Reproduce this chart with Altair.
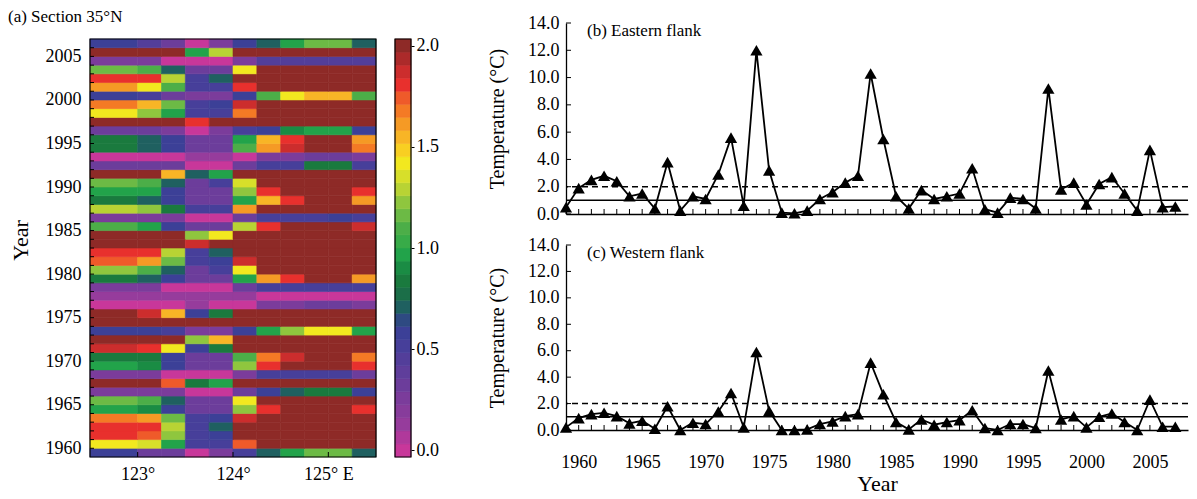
import altair as alt
import pandas as pd

FONT = "Liberation Serif"

# ---------------- (a) Section 35N : heat map ----------------
heat_years = list(range(1959, 2007))
lon_west = [122.5, 123.0, 123.25, 123.5, 123.75, 124.0, 124.25, 124.5, 124.75, 125.0, 125.25]
lon_east = [123.0, 123.25, 123.5, 123.75, 124.0, 124.25, 124.5, 124.75, 125.0, 125.25, 125.5]
sst_rows = [
    [0.58, 0.32, 0.32, 0.0, 0.26, 0.52, 0.71, 0.97, 1.16, 1.16, 0.71],   # 1959
    [1.42, 1.35, 0.97, 0.52, 0.52, 1.74, 2, 2, 2, 2, 2],                 # 1960
    [1.81, 1.74, 1.23, 0.52, 0.58, 2, 2, 2, 2, 2, 2],                    # 1961
    [1.81, 1.81, 1.29, 0.52, 0.71, 2, 2, 2, 2, 2, 2],                    # 1962
    [1.68, 1.61, 1.16, 0.52, 0.58, 1.87, 2, 2, 2, 2, 2],                 # 1963
    [0.97, 0.9, 0.58, 0.32, 0.32, 1.23, 1.81, 2, 2, 2, 1.81],            # 1964
    [1.16, 1.1, 0.71, 0.32, 0.32, 1.42, 2, 2, 2, 2, 2],                  # 1965
    [0.26, 0.26, 0.26, 0.0, 0.0, 0.32, 0.58, 0.71, 0.84, 0.84, 0.58],    # 1966
    [2, 2, 1.74, 0.84, 0.97, 2, 2, 2, 2, 2, 2],                          # 1967
    [0.26, 0.26, 0.0, 0.0, 0.0, 0.26, 0.52, 0.52, 0.52, 0.52, 0.32],     # 1968
    [0.97, 0.9, 0.58, 0.32, 0.32, 1.23, 1.81, 2, 2, 2, 1.81],            # 1969
    [0.84, 0.84, 0.58, 0.32, 0.32, 1.1, 1.68, 1.87, 2, 2, 1.68],         # 1970
    [1.87, 1.81, 1.42, 0.58, 0.84, 2, 2, 2, 2, 2, 2],                    # 1971
    [2, 2, 2, 1.23, 1.55, 2, 2, 2, 2, 2, 2],                             # 1972
    [0.58, 0.58, 0.52, 0.26, 0.26, 0.58, 0.97, 1.23, 1.42, 1.42, 0.97],  # 1973
    [2, 2, 2, 2, 2, 2, 2, 2, 2, 2, 2],                                   # 1974
    [2, 1.87, 1.55, 0.58, 0.84, 2, 2, 2, 2, 2, 2],                       # 1975
    [0.0, 0.0, 0.0, 0.13, 0.0, 0.0, 0.26, 0.26, 0.32, 0.32, 0.26],       # 1976
    [0.13, 0.13, 0.13, 0.13, 0.13, 0.13, 0.0, 0.0, 0.0, 0.0, 0.0],       # 1977
    [0.26, 0.26, 0.0, 0.0, 0.0, 0.32, 0.52, 0.52, 0.52, 0.52, 0.52],     # 1978
    [0.84, 0.71, 0.58, 0.32, 0.32, 0.97, 1.61, 1.81, 2, 2, 1.61],        # 1979
    [1.23, 1.1, 0.71, 0.32, 0.52, 1.42, 2, 2, 2, 2, 2],                  # 1980
    [1.74, 1.61, 1.16, 0.52, 0.58, 1.87, 2, 2, 2, 2, 2],                 # 1981
    [1.81, 1.81, 1.29, 0.52, 0.71, 2, 2, 2, 2, 2, 2],                    # 1982
    [2, 2, 2, 1.87, 2, 2, 2, 2, 2, 2, 2],                                # 1983
    [2, 2, 2, 1.23, 1.42, 2, 2, 2, 2, 2, 2],                             # 1984
    [1.1, 0.97, 0.58, 0.32, 0.32, 1.29, 1.81, 2, 2, 2, 1.87],            # 1985
    [0.26, 0.26, 0.26, 0.0, 0.0, 0.32, 0.52, 0.52, 0.52, 0.58, 0.52],    # 1986
    [1.29, 1.23, 0.84, 0.52, 0.52, 1.61, 2, 2, 2, 2, 2],                 # 1987
    [0.84, 0.71, 0.58, 0.32, 0.32, 0.97, 1.55, 1.81, 2, 2, 1.61],        # 1988
    [0.97, 0.97, 0.58, 0.32, 0.32, 1.23, 1.81, 2, 2, 2, 1.81],           # 1989
    [1.16, 1.1, 0.71, 0.32, 0.52, 1.35, 2, 2, 2, 2, 2],                  # 1990
    [2, 2, 1.55, 0.71, 0.97, 2, 2, 2, 2, 2, 2],                          # 1991
    [0.32, 0.32, 0.32, 0.0, 0.0, 0.32, 0.52, 0.52, 0.84, 0.84, 0.52],    # 1992
    [0.0, 0.0, 0.0, 0.13, 0.13, 0.0, 0.26, 0.26, 0.32, 0.32, 0.26],      # 1993
    [0.84, 0.71, 0.58, 0.32, 0.32, 1.1, 1.61, 1.87, 2, 2, 1.68],         # 1994
    [0.84, 0.71, 0.58, 0.32, 0.32, 0.97, 1.55, 1.81, 2, 2, 1.61],        # 1995
    [0.32, 0.32, 0.26, 0.0, 0.26, 0.52, 0.58, 0.9, 0.97, 0.97, 0.58],    # 1996
    [2, 2, 2, 1.81, 2, 2, 2, 2, 2, 2, 2],                                # 1997
    [1.42, 1.23, 0.97, 0.52, 0.52, 1.68, 2, 2, 2, 2, 2],                 # 1998
    [1.68, 1.55, 1.16, 0.52, 0.58, 1.87, 2, 2, 2, 2, 2],                 # 1999
    [0.58, 0.52, 0.32, 0.26, 0.26, 0.58, 1.1, 1.42, 1.55, 1.55, 1.1],    # 2000
    [1.61, 1.42, 1.1, 0.52, 0.52, 1.81, 2, 2, 2, 2, 2],                  # 2001
    [1.81, 1.81, 1.29, 0.52, 0.71, 2, 2, 2, 2, 2, 2],                    # 2002
    [1.16, 1.1, 0.71, 0.32, 0.32, 1.42, 2, 2, 2, 2, 2],                  # 2003
    [0.26, 0.26, 0.0, 0.0, 0.0, 0.26, 0.45, 0.45, 0.45, 0.45, 0.45],     # 2004
    [2, 2, 2, 0.97, 1.29, 2, 2, 2, 2, 2, 2],                             # 2005
    [0.58, 0.45, 0.32, 0.0, 0.26, 0.58, 0.71, 0.97, 1.16, 1.16, 0.71],   # 2006
]
lon_ticks = [123, 124, 125]
year_ticks = [1960, 1965, 1970, 1975, 1980, 1985, 1990, 1995, 2000, 2005]
minor_years = list(range(1960, 2007))
cbar_ticks = [0.0, 0.5, 1.0, 1.5, 2.0]

palette = [
    "#c8379a", "#b0399b", "#963c9c", "#873c9b", "#7b3c9b", "#6c3d9b", "#5f3e9b", "#533e9a",
    "#473f9a", "#3c4097", "#2e4a82", "#1f6060", "#1b6e48", "#1a7a3e", "#1a8c44", "#22a34a",
    "#38ab48", "#4cae48", "#6cba45", "#8fc63e", "#b8d334", "#d7df2a", "#f2e81f", "#f8cf22",
    "#f8b526", "#f59a25", "#f47a25", "#ef5a2a", "#e8302d", "#cc2d2d", "#ac2a2a", "#8e2a27",
]

# ---------------- (b)/(c) flank temperatures ----------------
line_years = list(range(1959, 2008))
east_flank = [0.5, 1.9, 2.5, 2.8, 2.4, 1.3, 1.5, 0.4, 3.8, 0.25, 1.3, 1.1, 2.9, 5.6, 0.6, 12.0,
              3.2, 0.1, 0.05, 0.25, 1.1, 1.6, 2.3, 2.8, 10.3, 5.5, 1.3, 0.4, 1.75, 1.1, 1.3, 1.5,
              3.35, 0.35, 0.1, 1.2, 1.1, 0.4, 9.2, 1.8, 2.3, 0.7, 2.2, 2.7, 1.5, 0.25, 4.7, 0.5, 0.55]
west_flank = [0.2, 0.9, 1.2, 1.3, 1.05, 0.5, 0.7, 0.1, 1.8, 0.0, 0.55, 0.45, 1.4, 2.8, 0.2, 5.9,
              1.45, 0.0, 0.0, 0.05, 0.45, 0.65, 1.05, 1.2, 5.1, 2.7, 0.6, 0.05, 0.8, 0.4, 0.6, 0.75,
              1.5, 0.15, 0.0, 0.45, 0.45, 0.15, 4.5, 0.8, 1.05, 0.2, 1.0, 1.25, 0.6, 0.0, 2.3, 0.25, 0.25]
ref_levels = [1.0, 2.0]
ref_kinds = ["solid", "dashed"]
temp_ticks = [0, 2, 4, 6, 8, 10, 12, 14]

# ---------------- build tables ----------------
recs = []
for yr, row in zip(heat_years, sst_rows):
    for w, e, v in zip(lon_west, lon_east, row):
        recs.append({"yr0": yr, "yr1": yr + 1, "lon0": w, "lon1": e, "sst": v})
heat_df = pd.DataFrame(recs)

n_col = len(palette)
step = 2.0 / (n_col - 1)
half = step / 2.0
centers = [k * step for k in range(n_col)]
cb_df = pd.DataFrame({"mid": centers,
                      "lo": [c - half for c in centers],
                      "hi": [c + half for c in centers]})

line_df = pd.DataFrame({"year": line_years, "east": east_flank, "west": west_flank})
ref_df = pd.DataFrame({"level": ref_levels, "kind": ref_kinds})
ytick_df = pd.DataFrame({"yr": minor_years})
xtick_df = pd.DataFrame({"lon": lon_ticks})
temp_df = pd.DataFrame({"t": temp_ticks})
one_df = pd.DataFrame({"t": ["(a) Section 35°N"]})

# ---------------- panel (a) ----------------
MAP_H = 418          # height of the coloured map itself
TOP_GAP = 16         # empty band above the map (keeps panel tops in line)
W_A, H_A = 286, MAP_H + TOP_GAP
n_rows = len(heat_years)
cscale = alt.Scale(type="quantize", domain=[-half, 2 + half], range=palette)
x_a = alt.Scale(domain=[122.5, 125.5], nice=False, zero=False)
y_a = alt.Scale(domain=[1959, 1959 + n_rows * H_A / MAP_H], nice=False, zero=False)
cb_span = 2 + 2 * half
cb_scale = alt.Scale(domain=[-half, -half + cb_span * H_A / MAP_H], nice=False, zero=False)

x_axis_a = alt.Axis(values=lon_ticks, title=None, ticks=False, domain=False, grid=False,
                    labelPadding=8, labelFontSize=18,
                    labelExpr="datum.value == 125 ? '\u00a0\u00a0\u00a0125° E' : datum.value + '°'")
y_axis_a = alt.Axis(values=year_ticks, format="d", title="Year", ticks=False, domain=False,
                    grid=False, labelPadding=9, labelFontSize=18, titleFontSize=22,
                    titlePadding=13)

heat = alt.Chart(heat_df).mark_rect(strokeWidth=0.6).encode(
    x=alt.X("lon0:Q", scale=x_a, axis=x_axis_a),
    x2="lon1:Q",
    y=alt.Y("yr0:Q", scale=y_a, axis=y_axis_a),
    y2="yr1:Q",
    color=alt.Color("sst:Q", scale=cscale, legend=None),
    stroke=alt.Stroke("sst:Q", scale=cscale, legend=None),
)
yticks_a = alt.Chart(ytick_df).mark_rule(color="black", strokeWidth=1).encode(
    y=alt.Y("yr:Q", scale=y_a, axis=y_axis_a), x=alt.value(0), x2=alt.value(4))
xticks_a = alt.Chart(xtick_df).mark_rule(color="black", strokeWidth=1).encode(
    x=alt.X("lon:Q", scale=x_a, axis=x_axis_a), y=alt.value(H_A), y2=alt.value(H_A - 5))
frame_a = alt.Chart(one_df).mark_rect(fillOpacity=0, stroke="black", strokeWidth=1.2).encode(
    x=alt.value(0), x2=alt.value(W_A), y=alt.value(TOP_GAP), y2=alt.value(H_A))
title_a = alt.Chart(one_df).mark_text(align="left", baseline="top", font=FONT, fontSize=17,
                                      color="black").encode(
    x=alt.value(-82), y=alt.value(TOP_GAP - 30), text="t:N")

inner_a = alt.layer(heat, yticks_a, xticks_a, frame_a, title_a)

cbar = alt.Chart(cb_df).mark_rect(strokeWidth=0.6).encode(
    x=alt.value(305), x2=alt.value(321),
    y=alt.Y("lo:Q", scale=cb_scale,
            axis=alt.Axis(orient="right", offset=35, values=cbar_ticks, format=".1f",
                          title=None, tickSize=3, labelPadding=2, domain=False, grid=False,
                          labelFontSize=18)),
    y2="hi:Q",
    color=alt.Color("mid:Q", scale=cscale, legend=None),
    stroke=alt.Stroke("mid:Q", scale=cscale, legend=None),
)
cbar_frame = alt.Chart(one_df).mark_rect(fillOpacity=0, stroke="black", strokeWidth=1.2).encode(
    x=alt.value(305), x2=alt.value(321), y=alt.value(TOP_GAP), y2=alt.value(H_A))

left = alt.layer(inner_a, cbar, cbar_frame).resolve_scale(y="independent").properties(
    width=W_A, height=H_A)

# ---------------- panels (b), (c) ----------------
W_L = 622


def flank(col, label, H, bottom):
    xs = alt.Scale(domain=[1959, 2008], nice=False, zero=False)
    ys = alt.Scale(domain=[0, 14], nice=False, zero=True)
    if bottom:
        xaxis = alt.Axis(values=year_ticks, format="d", title="Year", ticks=False, grid=False,
                         labelPadding=23, labelFontSize=18, titleFontSize=22, titlePadding=2)
    else:
        xaxis = alt.Axis(labels=False, ticks=False, title=None, grid=False)
    yaxis = alt.Axis(values=temp_ticks, format=".1f", title="Temperature (°C)", ticks=False,
                     grid=False, labelPadding=7, labelFontSize=18, titleFontSize=20,
                     titlePadding=20)
    base = alt.Chart(line_df)
    refs = alt.Chart(ref_df).mark_rule(color="black", strokeWidth=1.5).encode(
        y=alt.Y("level:Q", scale=ys, axis=yaxis),
        strokeDash=alt.StrokeDash("kind:N", scale=alt.Scale(domain=["solid", "dashed"],
                                                            range=[[1, 0], [6, 4]]),
                                  legend=None))
    xt = base.mark_rule(color="black", strokeWidth=1).encode(
        x=alt.X("year:Q", scale=xs, axis=xaxis), y=alt.value(H), y2=alt.value(H - 5))
    yt = alt.Chart(temp_df).mark_rule(color="black", strokeWidth=1).encode(
        y=alt.Y("t:Q", scale=ys, axis=yaxis), x=alt.value(0), x2=alt.value(5))
    line = base.mark_line(color="black", strokeWidth=1.8).encode(
        x=alt.X("year:Q", scale=xs, axis=xaxis),
        y=alt.Y(f"{col}:Q", scale=ys, axis=yaxis))
    pts = base.mark_point(shape="triangle-up", filled=True, color="black", opacity=1,
                          size=150).encode(
        x=alt.X("year:Q", scale=xs, axis=xaxis),
        y=alt.Y(f"{col}:Q", scale=ys, axis=yaxis))
    lab = alt.Chart(pd.DataFrame({"t": [label]})).mark_text(
        align="left", baseline="middle", font=FONT, fontSize=17, color="black").encode(
        x=alt.value(21), y=alt.value(8), text="t:N")
    sp = alt.Chart(pd.DataFrame({"t": ["."]})).mark_text(
        baseline="top", fontSize=10, opacity=0).encode(
        x=alt.value(0), y=alt.value(-14), text="t:N")
    return alt.layer(refs, xt, yt, line, pts, lab, sp).properties(width=W_L, height=H)


top = flank("east", "(b) Eastern flank", 191, False)
bot = flank("west", "(c) Western flank", 185, True)
right = alt.vconcat(top, bot, spacing=8)

chart = alt.hconcat(left, right, spacing=48).properties(padding=0).configure_view(
    strokeOpacity=0
).configure_axis(
    labelFont=FONT, titleFont=FONT, labelColor="black", titleColor="black",
    domainColor="black", tickColor="black", titleFontWeight="normal", domainWidth=1.3
)

chart.save("out.html", embed_options={"renderer": "svg", "actions": False})
